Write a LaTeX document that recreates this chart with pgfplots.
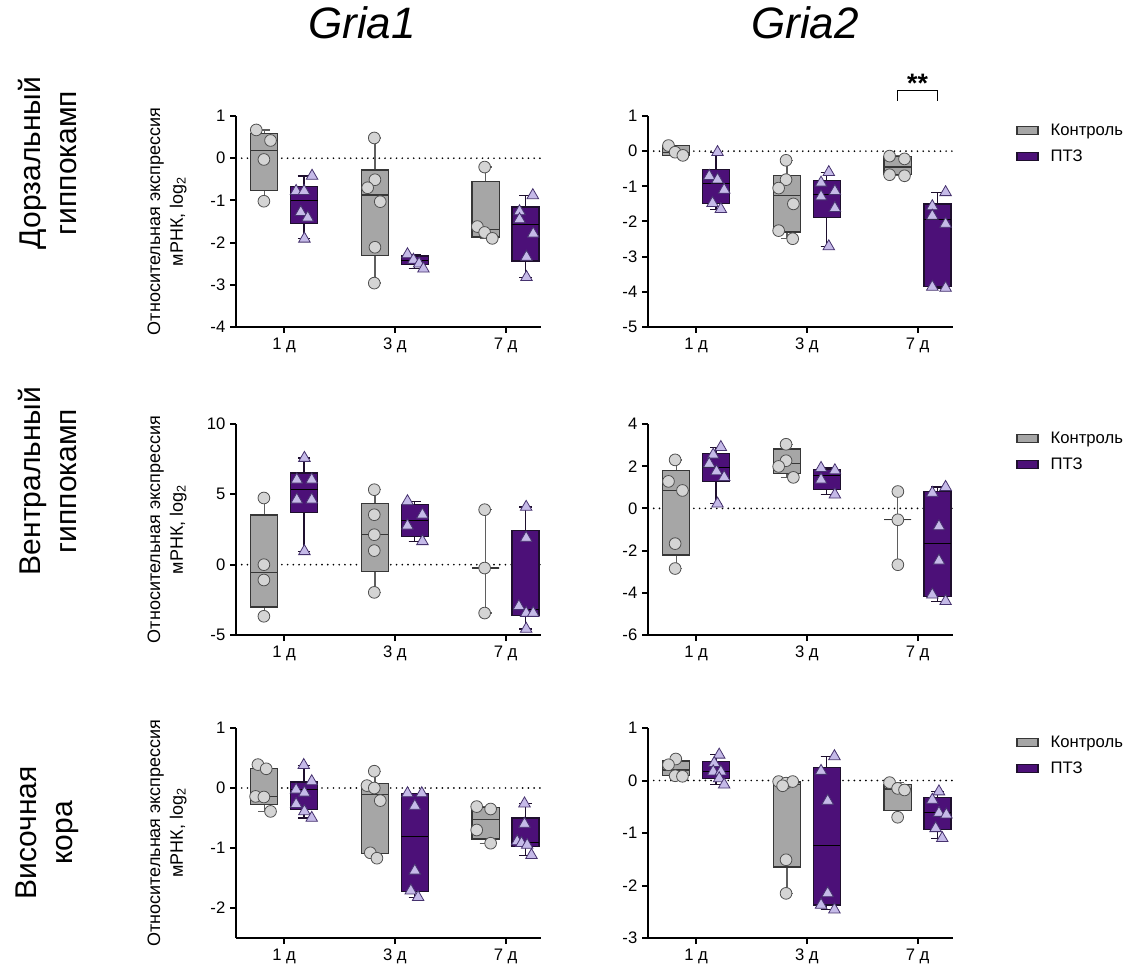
\documentclass[border=0pt]{standalone}
\usepackage{fontspec}
\setmainfont{Liberation Sans}
\usepackage{pgfplots}
\pgfplotsset{compat=1.18}
\usepgfplotslibrary{statistics}

\definecolor{ctrlfill}{RGB}{166,166,166}
\definecolor{ctrledge}{RGB}{55,55,55}
\definecolor{ctrlwhisk}{RGB}{95,95,95}
\definecolor{ctrlpt}{RGB}{212,212,212}
\definecolor{ctrlptedge}{RGB}{80,80,80}
\definecolor{ptzfill}{RGB}{76,16,120}
\definecolor{ptzedge}{RGB}{30,15,45}
\definecolor{ptzpt}{RGB}{197,186,232}
\definecolor{ptzptedge}{RGB}{70,50,110}

\newcommand\ticksz{\fontsize{12.5}{15}\selectfont}

\pgfplotsset{
  panel/.style={
    scale only axis, width=228.75pt, anchor=south west,
    axis lines=left, axis line style={line width=1.5pt,-},
    xmin=0.565, xmax=3.32, xtick={1,2,3}, xticklabels={1 д,3 д,7 д},
    tick align=outside, major tick length=4.5pt,
    major tick style={line width=1.5pt,black},
    tick label style={font=\ticksz},
    /pgf/number format/assume math mode=true,
    clip=false,
  },
  ctrlbox/.style={boxplot/draw direction=y, boxplot/box extend=0.245, boxplot/whisker extend=0.11,
    boxplot prepared={#1}, fill=ctrlfill, draw=ctrledge, line width=1pt,
    boxplot/every whisker/.style={draw=ctrlwhisk}},
  ptzbox/.style={boxplot/draw direction=y, boxplot/box extend=0.245, boxplot/whisker extend=0.11,
    boxplot prepared={#1}, fill=ptzfill, draw=ptzedge, line width=1pt,
    boxplot/every median/.style={draw=black, line width=0.6pt}},
  cpts/.style={only marks, mark=*, mark size=4.4pt,
    mark options={fill=ctrlpt, draw=ctrlptedge, line width=0.6pt}},
  ppts/.style={only marks, mark=triangle*, mark size=5pt,
    mark options={fill=ptzpt, draw=ptzptedge, line width=0.6pt}},
  zeroline/.style={black, line width=1.4pt, dash pattern=on 0pt off 4.3pt, line cap=round},
  grplegend/.style={
    legend style={at={(1.2065,0.976)}, anchor=north west, draw=none, fill=none,
      inner sep=0pt, row sep=5pt, font=\ticksz,
      /tikz/every odd column/.style={column sep=7pt}},
    legend cell align=left,
    legend image code/.code={\draw[##1, line width=1pt] (0pt,-3pt) rectangle (15.75pt,3pt);},
  },
}

\begin{document}
\begin{tikzpicture}
\useasboundingbox (0,0) rectangle (854.25pt,-726.75pt);

% titles and row labels
\node[font=\fontsize{33}{40}\selectfont\itshape, anchor=base] at (271.5pt,-29.25pt) {Gria1};
\node[font=\fontsize{33}{40}\selectfont\itshape, anchor=base] at (603.75pt,-29.25pt) {Gria2};
\node[rotate=90, align=center, font=\fontsize{22.5}{27}\selectfont] at (35.6pt,-122.25pt) {Дорзальный\\гиппокамп};
\node[rotate=90, align=center, font=\fontsize{22.5}{27}\selectfont] at (35.6pt,-360.75pt) {Вентральный\\гиппокамп};
\node[rotate=90, align=center, font=\fontsize{22.5}{27}\selectfont] at (35.6pt,-624.75pt) {Височная\\кора};

% y labels
\node[rotate=90, align=center, font=\fontsize{13.5}{17}\selectfont] at (125.25pt,-166.1pt) {Относительная экспрессия\\мРНК, log\textsubscript{2}};
\node[rotate=90, align=center, font=\fontsize{13.5}{17}\selectfont] at (125.25pt,-397.1pt) {Относительная экспрессия\\мРНК, log\textsubscript{2}};
\node[rotate=90, align=center, font=\fontsize{13.5}{17}\selectfont] at (125.25pt,-624.75pt) {Относительная экспрессия\\мРНК, log\textsubscript{2}};

% ---------- Row 1, Gria1 ----------
\begin{axis}[panel, at={(177pt,-245.25pt)}, height=158.25pt, ymin=-4, ymax=1, ytick={-4,-3,-2,-1,0,1}]
\addplot[zeroline] coordinates {(0.565,0) (3.32,0)};
\addplot[ctrlbox={draw position=0.82, median=0.18, upper quartile=0.59, lower quartile=-0.77, upper whisker=0.67, lower whisker=-1.02}] coordinates {};
\addplot[ptzbox={draw position=1.18, median=-1.00, upper quartile=-0.67, lower quartile=-1.54, upper whisker=-0.42, lower whisker=-1.91}] coordinates {};
\addplot[ctrlbox={draw position=1.82, median=-0.87, upper quartile=-0.28, lower quartile=-2.31, upper whisker=0.48, lower whisker=-2.96}] coordinates {};
\addplot[ptzbox={draw position=2.18, median=-2.42, upper quartile=-2.32, lower quartile=-2.52, upper whisker=-2.28, lower whisker=-2.62}] coordinates {};
\addplot[ctrlbox={draw position=2.82, median=-1.69, upper quartile=-0.56, lower quartile=-1.87, upper whisker=-0.21, lower whisker=-1.90}] coordinates {};
\addplot[ptzbox={draw position=3.18, median=-1.57, upper quartile=-1.16, lower quartile=-2.44, upper whisker=-0.88, lower whisker=-2.82}] coordinates {};
\addplot[cpts] coordinates {(0.748,0.67) (0.877,0.42) (0.817,-0.03) (0.817,-1.02)
  (1.814,0.48) (1.820,-0.51) (1.754,-0.70) (1.868,-1.03) (1.820,-2.11) (1.814,-2.96)
  (2.811,-0.21) (2.745,-1.62) (2.811,-1.76) (2.880,-1.90)};
\addplot[ppts] coordinates {(1.252,-0.42) (1.108,-0.78) (1.180,-0.78) (1.150,-1.28) (1.213,-1.41) (1.183,-1.91)
  (2.114,-2.28) (2.168,-2.41) (2.219,-2.50) (2.258,-2.62)
  (3.246,-0.88) (3.126,-1.26) (3.126,-1.45) (3.250,-1.79) (3.189,-2.34) (3.189,-2.82)};
\end{axis}

% ---------- Row 1, Gria2 ----------
\begin{axis}[panel, grplegend, at={(486pt,-245.25pt)}, height=158.25pt, ymin=-5, ymax=1, ytick={-5,-4,-3,-2,-1,0,1}]
\addlegendimage{fill=ctrlfill, draw=ctrledge}
\addlegendimage{fill=ptzfill, draw=ptzedge}
\legend{Контроль,ПТЗ}
\addplot[zeroline] coordinates {(0.565,0) (3.32,0)};
\addplot[ctrlbox={draw position=0.82, median=-0.03, upper quartile=0.16, lower quartile=-0.12, upper whisker=0.16, lower whisker=-0.12}] coordinates {};
\addplot[ptzbox={draw position=1.18, median=-0.92, upper quartile=-0.52, lower quartile=-1.48, upper whisker=-0.03, lower whisker=-1.65}] coordinates {};
\addplot[ctrlbox={draw position=1.82, median=-1.27, upper quartile=-0.70, lower quartile=-2.30, upper whisker=-0.26, lower whisker=-2.49}] coordinates {};
\addplot[ptzbox={draw position=2.18, median=-1.22, upper quartile=-0.83, lower quartile=-1.88, upper whisker=-0.60, lower whisker=-2.71}] coordinates {};
\addplot[ctrlbox={draw position=2.82, median=-0.45, upper quartile=-0.16, lower quartile=-0.67, upper whisker=-0.14, lower whisker=-0.70}] coordinates {};
\addplot[ptzbox={draw position=3.18, median=-1.95, upper quartile=-1.50, lower quartile=-3.84, upper whisker=-1.17, lower whisker=-3.89}] coordinates {};
\addplot[cpts] coordinates {(0.75,0.16) (0.81,-0.03) (0.88,-0.12)
  (1.812,-0.26) (1.812,-0.81) (1.745,-1.05) (1.878,-1.50) (1.745,-2.26) (1.872,-2.49)
  (2.747,-0.14) (2.882,-0.22) (2.747,-0.67) (2.882,-0.70)};
\addplot[ppts] coordinates {(1.193,-0.03) (1.118,-0.71) (1.193,-0.81) (1.253,-1.10) (1.148,-1.48) (1.223,-1.65)
  (2.198,-0.60) (2.128,-0.90) (2.128,-1.29) (2.253,-1.14) (2.253,-1.62) (2.198,-2.71)
  (3.253,-1.17) (3.133,-1.57) (3.133,-1.84) (3.253,-2.07) (3.133,-3.86) (3.253,-3.89)};
% significance bracket
\draw[line width=1.2pt] (axis cs:2.82,1.44) -- (axis cs:2.82,1.72) -- (axis cs:3.18,1.72) -- (axis cs:3.18,1.44);
\node[anchor=base, font=\fontsize{20}{24}\selectfont\bfseries] at (axis cs:3.0,1.66) {**};
\end{axis}

% ---------- Row 2, Gria1 ----------
\begin{axis}[panel, at={(177pt,-476.25pt)}, height=158.25pt, ymin=-5, ymax=10, ytick={-5,0,5,10}]
\addplot[zeroline] coordinates {(0.565,0) (3.32,0)};
\addplot[ctrlbox={draw position=0.82, median=-0.545, upper quartile=3.53, lower quartile=-3.01, upper whisker=4.74, lower whisker=-3.67}] coordinates {};
\addplot[ptzbox={draw position=1.18, median=5.33, upper quartile=6.52, lower quartile=3.72, upper whisker=7.58, lower whisker=0.95}] coordinates {};
\addplot[ctrlbox={draw position=1.82, median=2.13, upper quartile=4.34, lower quartile=-0.47, upper whisker=5.33, lower whisker=-1.97}] coordinates {};
\addplot[ptzbox={draw position=2.18, median=3.16, upper quartile=4.27, lower quartile=2.01, upper whisker=4.50, lower whisker=1.66}] coordinates {};
\addplot[ctrlbox={draw position=2.82, median=-0.24, upper quartile=-0.24, lower quartile=-0.24, upper whisker=3.91, lower whisker=-3.44}] coordinates {};
\addplot[ptzbox={draw position=3.18, median=-3.20, upper quartile=2.44, lower quartile=-3.63, upper whisker=4.10, lower whisker=-4.57}] coordinates {};
\addplot[cpts] coordinates {(0.817,4.74) (0.817,0.0) (0.817,-1.09) (0.817,-3.67)
  (1.814,5.33) (1.814,3.55) (1.814,2.13) (1.814,1.0) (1.814,-1.97)
  (2.811,3.91) (2.811,-0.24) (2.811,-3.44)};
\addplot[ppts] coordinates {(1.183,7.58) (1.114,6.04) (1.249,6.04) (1.114,4.62) (1.249,4.62) (1.183,0.95)
  (2.114,4.50) (2.249,3.55) (2.114,2.77) (2.249,1.66)
  (3.186,4.10) (3.186,1.90) (3.120,-2.96) (3.186,-3.44) (3.250,-3.44) (3.186,-4.57)};
\end{axis}

% ---------- Row 2, Gria2 ----------
\begin{axis}[panel, grplegend, at={(486pt,-476.25pt)}, height=158.25pt, ymin=-6, ymax=4, ytick={-6,-4,-2,0,2,4}]
\addlegendimage{fill=ctrlfill, draw=ctrledge}
\addlegendimage{fill=ptzfill, draw=ptzedge}
\legend{Контроль,ПТЗ}
\addplot[zeroline] coordinates {(0.565,0) (3.32,0)};
\addplot[ctrlbox={draw position=0.82, median=0.85, upper quartile=1.80, lower quartile=-2.21, upper whisker=2.30, lower whisker=-2.85}] coordinates {};
\addplot[ptzbox={draw position=1.18, median=1.93, upper quartile=2.59, lower quartile=1.26, upper whisker=2.90, lower whisker=0.22}] coordinates {};
\addplot[ctrlbox={draw position=1.82, median=2.12, upper quartile=2.81, lower quartile=1.64, upper whisker=3.04, lower whisker=1.47}] coordinates {};
\addplot[ptzbox={draw position=2.18, median=1.58, upper quartile=1.83, lower quartile=0.91, upper whisker=1.91, lower whisker=0.65}] coordinates {};
\addplot[ctrlbox={draw position=2.82, median=-0.54, upper quartile=-0.54, lower quartile=-0.54, upper whisker=0.80, lower whisker=-2.67}] coordinates {};
\addplot[ptzbox={draw position=3.18, median=-1.64, upper quartile=0.80, lower quartile=-4.16, upper whisker=1.01, lower whisker=-4.40}] coordinates {};
\addplot[cpts] coordinates {(0.81,2.30) (0.75,1.28) (0.876,0.85) (0.81,-1.67) (0.81,-2.85)
  (1.812,3.04) (1.812,2.26) (1.745,1.99) (1.878,1.47)
  (2.822,0.80) (2.822,-0.54) (2.822,-2.67)};
\addplot[ppts] coordinates {(1.223,2.90) (1.154,2.54) (1.118,2.11) (1.184,1.75) (1.253,1.48) (1.193,0.22)
  (2.128,1.91) (2.253,1.80) (2.128,1.36) (2.253,0.65)
  (3.253,1.01) (3.133,0.73) (3.193,-0.85) (3.193,-2.48) (3.133,-4.09) (3.253,-4.40)};
\end{axis}

% ---------- Row 3, Gria1 ----------
\begin{axis}[panel, at={(177pt,-703.5pt)}, height=157.5pt, ymin=-2.5, ymax=1, ytick={-2,-1,0,1}]
\addplot[zeroline] coordinates {(0.565,0) (3.32,0)};
\addplot[ctrlbox={draw position=0.82, median=-0.14, upper quartile=0.33, lower quartile=-0.27, upper whisker=0.39, lower whisker=-0.39}] coordinates {};
\addplot[ptzbox={draw position=1.18, median=-0.03, upper quartile=0.10, lower quartile=-0.36, upper whisker=0.38, lower whisker=-0.50}] coordinates {};
\addplot[ctrlbox={draw position=1.82, median=-0.11, upper quartile=0.07, lower quartile=-1.09, upper whisker=0.28, lower whisker=-1.17}] coordinates {};
\addplot[ptzbox={draw position=2.18, median=-0.81, upper quartile=-0.09, lower quartile=-1.73, upper whisker=-0.09, lower whisker=-1.82}] coordinates {};
\addplot[ctrlbox={draw position=2.82, median=-0.53, upper quartile=-0.32, lower quartile=-0.85, upper whisker=-0.31, lower whisker=-0.92}] coordinates {};
\addplot[ptzbox={draw position=3.18, median=-0.90, upper quartile=-0.50, lower quartile=-0.98, upper whisker=-0.26, lower whisker=-1.12}] coordinates {};
\addplot[cpts] coordinates {(0.763,0.39) (0.838,0.32) (0.742,-0.14) (0.817,-0.15) (0.877,-0.39)
  (1.814,0.28) (1.748,0.04) (1.814,0.0) (1.868,-0.21) (1.778,-1.08) (1.838,-1.17)
  (2.739,-0.31) (2.865,-0.35) (2.739,-0.70) (2.865,-0.92)};
\addplot[ppts] coordinates {(1.177,0.38) (1.249,0.11) (1.108,-0.03) (1.183,-0.08) (1.108,-0.27) (1.183,-0.39) (1.249,-0.50)
  (2.114,-0.09) (2.243,-0.09) (2.180,-0.30) (2.180,-1.38) (2.144,-1.71) (2.210,-1.82)
  (3.171,-0.26) (3.171,-0.60) (3.105,-0.89) (3.144,-0.92) (3.195,-0.95) (3.234,-1.12)};
\end{axis}

% ---------- Row 3, Gria2 ----------
\begin{axis}[panel, grplegend, at={(486pt,-703.5pt)}, height=157.5pt, ymin=-3, ymax=1, ytick={-3,-2,-1,0,1}]
\addlegendimage{fill=ctrlfill, draw=ctrledge}
\addlegendimage{fill=ptzfill, draw=ptzedge}
\legend{Контроль,ПТЗ}
\addplot[zeroline] coordinates {(0.565,0) (3.32,0)};
\addplot[ctrlbox={draw position=0.82, median=0.20, upper quartile=0.37, lower quartile=0.09, upper whisker=0.41, lower whisker=0.08}] coordinates {};
\addplot[ptzbox={draw position=1.18, median=0.17, upper quartile=0.36, lower quartile=0.04, upper whisker=0.49, lower whisker=-0.08}] coordinates {};
\addplot[ctrlbox={draw position=1.82, median=-0.07, upper quartile=-0.03, lower quartile=-1.65, upper whisker=-0.02, lower whisker=-2.15}] coordinates {};
\addplot[ptzbox={draw position=2.18, median=-1.24, upper quartile=0.25, lower quartile=-2.37, upper whisker=0.46, lower whisker=-2.46}] coordinates {};
\addplot[ctrlbox={draw position=2.82, median=-0.16, upper quartile=-0.07, lower quartile=-0.57, upper whisker=-0.04, lower whisker=-0.70}] coordinates {};
\addplot[ptzbox={draw position=3.18, median=-0.61, upper quartile=-0.32, lower quartile=-0.93, upper whisker=-0.21, lower whisker=-1.10}] coordinates {};
\addplot[cpts] coordinates {(0.816,0.41) (0.75,0.30) (0.81,0.09) (0.876,0.08)
  (1.745,-0.02) (1.812,-0.05) (1.872,-0.02) (1.781,-0.10) (1.812,-1.51) (1.812,-2.15)
  (2.747,-0.04) (2.820,-0.15) (2.882,-0.18) (2.820,-0.70)};
\addplot[ppts] coordinates {(1.208,0.49) (1.163,0.33) (1.154,0.17) (1.223,0.17) (1.208,0.04) (1.253,-0.08)
  (2.249,0.46) (2.128,0.18) (2.188,-0.39) (2.188,-2.15) (2.128,-2.37) (2.249,-2.46)
  (3.193,-0.21) (3.133,-0.37) (3.193,-0.62) (3.260,-0.65) (3.163,-0.91) (3.223,-1.10)};
\end{axis}
\end{tikzpicture}
\end{document}
